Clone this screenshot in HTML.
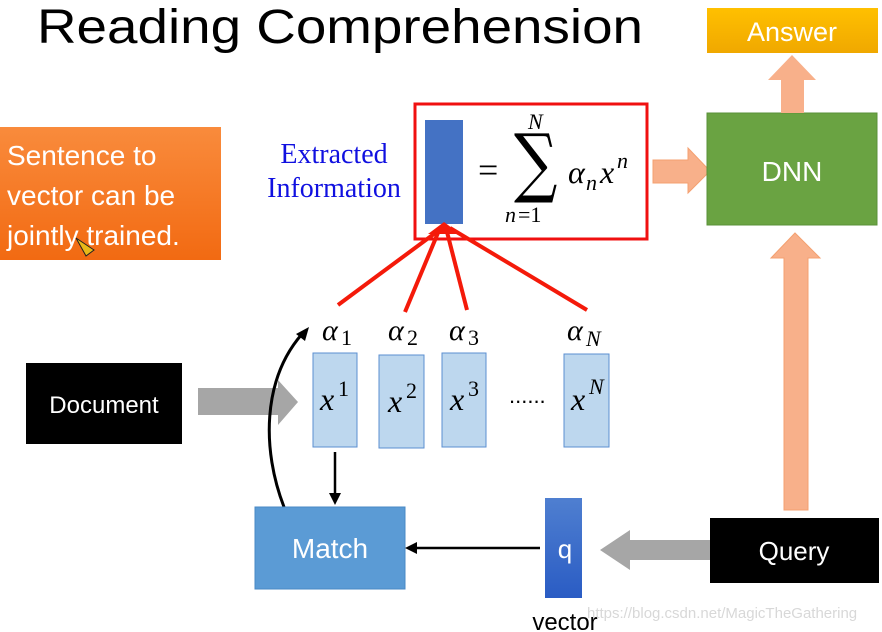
<!DOCTYPE html>
<html><head><meta charset="utf-8"><style>
html,body{margin:0;padding:0;background:#fff;width:882px;height:632px;overflow:hidden}
svg text{font-family:"Liberation Sans",sans-serif}
svg text.s,svg .s text{font-family:"Liberation Serif",serif;font-style:italic}
svg text.r,svg .r text{font-family:"Liberation Serif",serif;font-style:normal}
</style></head><body>
<svg width="882" height="632" viewBox="0 0 882 632" xmlns="http://www.w3.org/2000/svg">
<defs>
<linearGradient id="og" x1="0" y1="0" x2="0" y2="1"><stop offset="0" stop-color="#f98b3c"/><stop offset="1" stop-color="#f26a12"/></linearGradient>
<linearGradient id="qg" x1="0" y1="0" x2="0" y2="1"><stop offset="0" stop-color="#4f7fd0"/><stop offset="1" stop-color="#2a5cc4"/></linearGradient>
<linearGradient id="yg" x1="0" y1="0" x2="0" y2="1"><stop offset="0" stop-color="#ffc000"/><stop offset="1" stop-color="#f0a800"/></linearGradient>
</defs>
<text x="37" y="43" font-size="48" fill="#000" textLength="606" lengthAdjust="spacingAndGlyphs">Reading Comprehension</text>

<rect x="0" y="127" width="221" height="133" fill="url(#og)"/>
<g fill="#fff" font-size="28"><text x="7" y="165">Sentence to</text><text x="7" y="205">vector can be</text><text x="7" y="245">jointly trained.</text></g>
<path d="M76 238 l10 18 l8 -6 z" fill="#e8b818" stroke="#222" stroke-width="1"/>

<g class="r" fill="#1010e0" font-size="28" text-anchor="middle">
<text x="334" y="163">Extracted</text>
<text x="334" y="197">Information</text></g>

<rect x="415" y="104" width="232" height="135" fill="none" stroke="#f01010" stroke-width="3"/>
<rect x="425" y="120" width="38" height="104" fill="#4472c4"/>
<text x="478" y="182" font-size="36" class="r">=</text>
<text x="0" y="0" font-size="76" transform="translate(514,188) scale(0.8,1)" style="font-family:'DejaVu Serif',serif">∑</text>
<text x="528" y="129" font-size="22" class="s">N</text>
<text x="505" y="222" font-size="22" class="s">n</text><text x="518" y="222" font-size="22" class="r">=1</text>
<text x="568" y="183" font-size="32" class="s">α</text><text x="586" y="190" font-size="22" class="s">n</text>
<text x="600" y="183" font-size="32" class="s">x</text><text x="617" y="168" font-size="22" class="s">n</text>

<path d="M653 160 H688 V148 L710 171 L688 193 V183 H653 Z" fill="#f8b08a" stroke="#f4a070"/>
<rect x="707" y="113" width="170" height="112" fill="#6aa342" stroke="#5a9038"/>
<text x="792" y="181" font-size="28" fill="#fff" text-anchor="middle">DNN</text>
<path d="M781 113 V80 H768 L792 55 L816 80 H804 V113 Z" fill="#f8b08a"/>
<rect x="707" y="8" width="171" height="45" fill="url(#yg)"/>
<text x="792" y="41" font-size="27" fill="#fff" text-anchor="middle">Answer</text>
<path d="M784 510 V258 H771 L795 233 L820 258 H808 V510 Z" fill="#f8b08a" stroke="#f4a070"/>

<g stroke="#f41a0a" stroke-width="4" fill="none">
<line x1="338" y1="305" x2="442" y2="228"/><line x1="405" y1="312" x2="440" y2="228"/>
<line x1="467" y1="310" x2="446" y2="228"/><line x1="587" y1="310" x2="450" y2="228"/>
</g>
<path d="M428 234 L444 222 L460 234 Z" fill="#f41a0a"/>

<g font-size="30" class="s">
<text x="322" y="340">α</text><text x="341" y="345" font-size="22" class="r">1</text>
<text x="388" y="340">α</text><text x="407" y="345" font-size="22" class="r">2</text>
<text x="449" y="340">α</text><text x="468" y="345" font-size="22" class="r">3</text>
<text x="567" y="340">α</text><text x="586" y="346" font-size="22">N</text>
</g>
<g fill="#bdd7ee" stroke="#5b8fd0" stroke-width="1">
<rect x="313" y="353" width="44" height="94"/><rect x="379" y="355" width="45" height="93"/>
<rect x="442" y="353" width="44" height="94"/><rect x="564" y="354" width="45" height="93"/></g>
<g font-size="32" class="s">
<text x="320" y="410">x</text><text x="338" y="396" font-size="22" class="r">1</text>
<text x="388" y="412">x</text><text x="406" y="398" font-size="22" class="r">2</text>
<text x="450" y="410">x</text><text x="468" y="396" font-size="22" class="r">3</text>
<text x="571" y="410">x</text><text x="589" y="394" font-size="22">N</text>
</g>
<text x="509" y="403" font-size="22">......</text>

<rect x="26" y="363" width="156" height="81" fill="#000"/>
<text x="104" y="413" font-size="24" fill="#fff" text-anchor="middle">Document</text>
<path d="M198 388 H278 V380 L298 402 L278 425 V415 H198 Z" fill="#a6a6a6"/>

<line x1="335" y1="452" x2="335" y2="495" stroke="#000" stroke-width="2.5"/>
<path d="M329 493 L335 505 L341 493 Z" fill="#000"/>
<path d="M284 507 C262 450 262 380 302 334" fill="none" stroke="#000" stroke-width="3"/>
<path d="M296 334 L309 327 L305 341 Z" fill="#000"/>

<rect x="255" y="507" width="150" height="82" fill="#5b9bd5" stroke="#4a88c5"/>
<text x="330" y="558" font-size="28" fill="#fff" text-anchor="middle">Match</text>
<line x1="540" y1="548" x2="415" y2="548" stroke="#000" stroke-width="2.5"/>
<path d="M417 542 L405 548 L417 554 Z" fill="#000"/>
<rect x="545" y="498" width="37" height="100" fill="url(#qg)"/>
<text x="565" y="558" font-size="26" fill="#fff" text-anchor="middle">q</text>
<path d="M710 540 H630 V530 L600 550 L630 570 V560 H710 Z" fill="#a6a6a6"/>
<rect x="710" y="518" width="169" height="65" fill="#000"/>
<text x="794" y="560" font-size="26" fill="#fff" text-anchor="middle">Query</text>
<text x="565" y="630" font-size="24" text-anchor="middle">vector</text>
<text x="587" y="618" font-size="15" fill="#d8d8d8">https://blog.csdn.net/MagicTheGathering</text>
</svg>
</body></html>
